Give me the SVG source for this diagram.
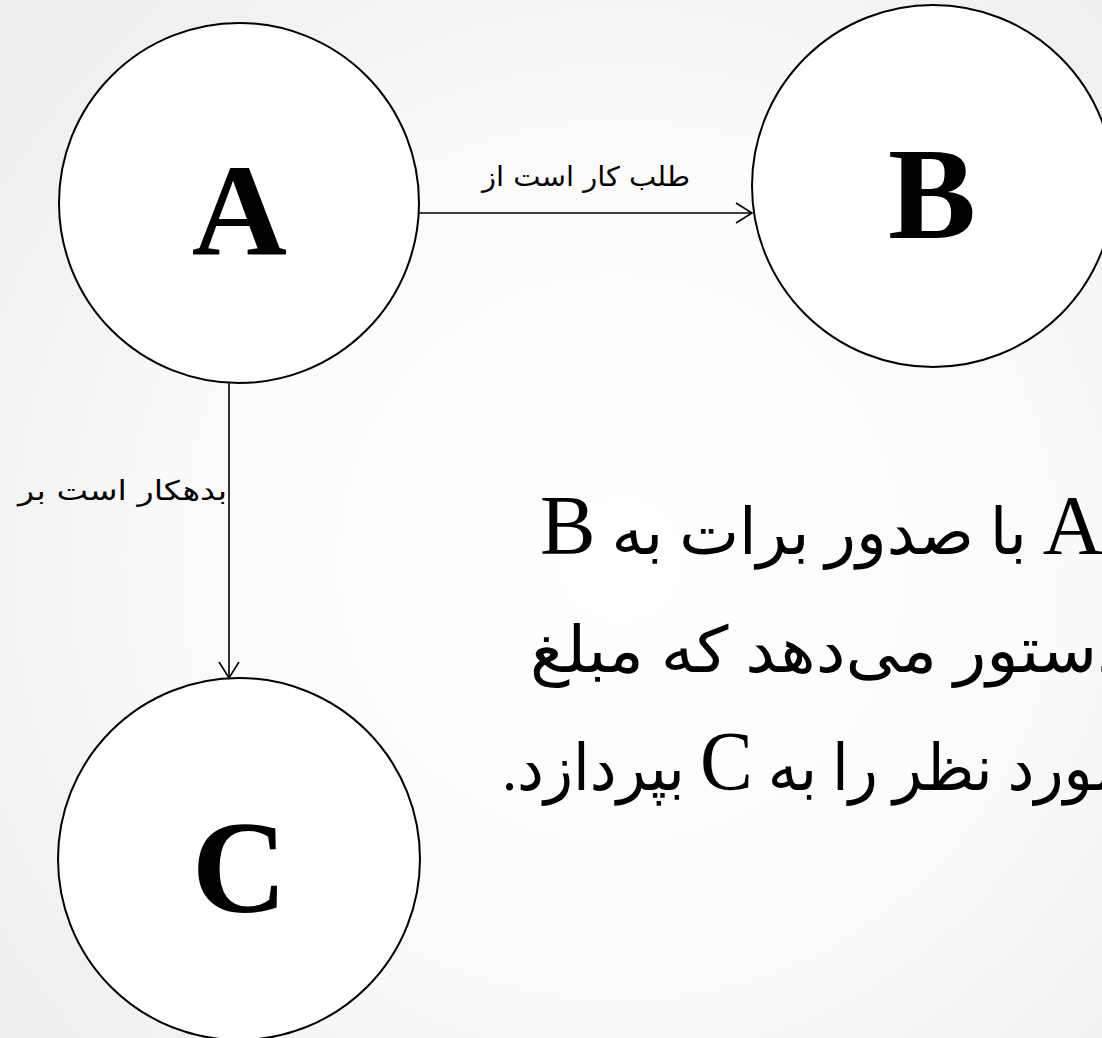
<svg xmlns="http://www.w3.org/2000/svg" width="1102" height="1038" viewBox="0 0 1102 1038">
<defs>
<radialGradient id="bg" cx="620" cy="560" r="760" gradientUnits="userSpaceOnUse">
<stop offset="0" stop-color="#ffffff"/>
<stop offset="0.55" stop-color="#fbfbfb"/>
<stop offset="1" stop-color="#eeeeee"/>
</radialGradient>
<marker id="arr" markerWidth="20" markerHeight="24" refX="17" refY="11" orient="auto" markerUnits="userSpaceOnUse">
<path d="M1,1 L17,11 L1,21" fill="none" stroke="#000" stroke-width="1.6"/>
</marker>
<style>
.node{fill:#fff;stroke:#000;stroke-width:2}
.big{font-family:"Liberation Serif","Times New Roman",serif;font-weight:bold;font-size:132px;text-anchor:middle;fill:#000}
.edge{stroke:#000;stroke-width:1.6;fill:none;marker-end:url(#arr)}
.lbl{font-family:"DejaVu Sans",sans-serif;font-size:27px;fill:#000}
.body{font-family:"Liberation Serif","DejaVu Sans",serif;font-size:64px;fill:#000}
.lat{font-family:"Liberation Serif","Times New Roman",serif;font-size:84px}
</style>
</defs>
<rect width="1102" height="1038" fill="url(#bg)"/>
<g id="node-A">
<circle class="node" cx="239" cy="203" r="180"/>
<text class="big" x="239.5" y="255">A</text>
</g>
<g id="node-B">
<circle class="node" cx="933" cy="186" r="181"/>
<text class="big" x="932" y="238">B</text>
</g>
<g id="node-C">
<circle class="node" cx="239" cy="859" r="181"/>
<text class="big" x="239.5" y="912">C</text>
</g>
<g id="connectors">
<line class="edge" x1="419" y1="213" x2="752" y2="213"/>
<line class="edge" x1="229" y1="383" x2="229" y2="678"/>
<text class="lbl" x="690" y="186" text-anchor="start" direction="rtl" textLength="208" lengthAdjust="spacingAndGlyphs">طلب کار است از</text>
<text class="lbl" x="227" y="500" text-anchor="start" direction="rtl" textLength="209" lengthAdjust="spacingAndGlyphs">بدهکار است بر</text>
</g>
<g id="body-text">
<text class="body" x="1103" y="554" text-anchor="start" direction="rtl" textLength="563" lengthAdjust="spacingAndGlyphs"><tspan class="lat">A</tspan> با صدور برات به <tspan class="lat">B</tspan></text>
<text class="body" x="1127" y="672" text-anchor="start" direction="rtl" textLength="597" lengthAdjust="spacingAndGlyphs">دستور می&#x200C;دهد که مبلغ</text>
<text class="body" x="1127" y="790" text-anchor="start" direction="rtl" textLength="625" lengthAdjust="spacingAndGlyphs">مورد نظر را به <tspan class="lat">C</tspan> بپردازد.</text>
</g>
</svg>
